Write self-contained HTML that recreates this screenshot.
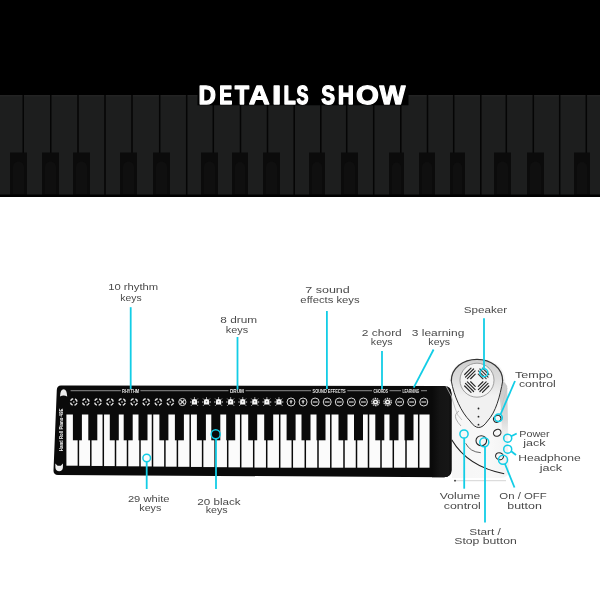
<!DOCTYPE html>
<html><head><meta charset="utf-8"><style>
html,body{margin:0;padding:0;background:#fff;width:600px;height:600px;overflow:hidden;position:relative}
</style></head><body>
<svg width="600" height="600" viewBox="0 0 600 600" style="position:absolute;left:0;top:0;will-change:transform" font-family="Liberation Sans, sans-serif"><rect x="0" y="0" width="600" height="197" fill="#000"/><rect x="0" y="95" width="600" height="100" fill="#1d1e1e"/><rect x="0" y="95" width="600" height="1.5" fill="#232323"/><rect x="22.5" y="95" width="1.5" height="100" fill="#050505"/><rect x="50.0" y="95" width="1.5" height="100" fill="#050505"/><rect x="77.25" y="95" width="1.5" height="100" fill="#050505"/><rect x="104.25" y="95" width="1.5" height="100" fill="#050505"/><rect x="131.25" y="95" width="1.5" height="100" fill="#050505"/><rect x="158.95" y="95" width="1.5" height="100" fill="#050505"/><rect x="185.95" y="95" width="1.5" height="100" fill="#050505"/><rect x="212.55" y="95" width="1.5" height="100" fill="#050505"/><rect x="239.75" y="95" width="1.5" height="100" fill="#050505"/><rect x="266.75" y="95" width="1.5" height="100" fill="#050505"/><rect x="293.45" y="95" width="1.5" height="100" fill="#050505"/><rect x="320.05" y="95" width="1.5" height="100" fill="#050505"/><rect x="345.95" y="95" width="1.5" height="100" fill="#050505"/><rect x="372.95" y="95" width="1.5" height="100" fill="#050505"/><rect x="400.05" y="95" width="1.5" height="100" fill="#050505"/><rect x="426.75" y="95" width="1.5" height="100" fill="#050505"/><rect x="452.95" y="95" width="1.5" height="100" fill="#050505"/><rect x="480.05" y="95" width="1.5" height="100" fill="#050505"/><rect x="505.55" y="95" width="1.5" height="100" fill="#050505"/><rect x="532.55" y="95" width="1.5" height="100" fill="#050505"/><rect x="558.95" y="95" width="1.5" height="100" fill="#050505"/><rect x="585.55" y="95" width="1.5" height="100" fill="#050505"/><rect x="10" y="152.5" width="17" height="42.5" fill="#0b0b0b"/><path d="M13 194 V167 a5.5 5.5 0 0 1 11 0 V194 Z" fill="#0f0f0f"/><rect x="42" y="152.5" width="17" height="42.5" fill="#0b0b0b"/><path d="M45 194 V167 a5.5 5.5 0 0 1 11 0 V194 Z" fill="#0f0f0f"/><rect x="73" y="152.5" width="17" height="42.5" fill="#0b0b0b"/><path d="M76 194 V167 a5.5 5.5 0 0 1 11 0 V194 Z" fill="#0f0f0f"/><rect x="120" y="152.5" width="17" height="42.5" fill="#0b0b0b"/><path d="M123 194 V167 a5.5 5.5 0 0 1 11 0 V194 Z" fill="#0f0f0f"/><rect x="153" y="152.5" width="17" height="42.5" fill="#0b0b0b"/><path d="M156 194 V167 a5.5 5.5 0 0 1 11 0 V194 Z" fill="#0f0f0f"/><rect x="201" y="152.5" width="17" height="42.5" fill="#0b0b0b"/><path d="M204 194 V167 a5.5 5.5 0 0 1 11 0 V194 Z" fill="#0f0f0f"/><rect x="232" y="152.5" width="16" height="42.5" fill="#0b0b0b"/><path d="M235 194 V167 a5.0 5.0 0 0 1 10 0 V194 Z" fill="#0f0f0f"/><rect x="263" y="152.5" width="17" height="42.5" fill="#0b0b0b"/><path d="M266 194 V167 a5.5 5.5 0 0 1 11 0 V194 Z" fill="#0f0f0f"/><rect x="309" y="152.5" width="16" height="42.5" fill="#0b0b0b"/><path d="M312 194 V167 a5.0 5.0 0 0 1 10 0 V194 Z" fill="#0f0f0f"/><rect x="341" y="152.5" width="17" height="42.5" fill="#0b0b0b"/><path d="M344 194 V167 a5.5 5.5 0 0 1 11 0 V194 Z" fill="#0f0f0f"/><rect x="389" y="152.5" width="15" height="42.5" fill="#0b0b0b"/><path d="M392 194 V167 a4.5 4.5 0 0 1 9 0 V194 Z" fill="#0f0f0f"/><rect x="419" y="152.5" width="16" height="42.5" fill="#0b0b0b"/><path d="M422 194 V167 a5.0 5.0 0 0 1 10 0 V194 Z" fill="#0f0f0f"/><rect x="450" y="152.5" width="15" height="42.5" fill="#0b0b0b"/><path d="M453 194 V167 a4.5 4.5 0 0 1 9 0 V194 Z" fill="#0f0f0f"/><rect x="494" y="152.5" width="17" height="42.5" fill="#0b0b0b"/><path d="M497 194 V167 a5.5 5.5 0 0 1 11 0 V194 Z" fill="#0f0f0f"/><rect x="527" y="152.5" width="17" height="42.5" fill="#0b0b0b"/><path d="M530 194 V167 a5.5 5.5 0 0 1 11 0 V194 Z" fill="#0f0f0f"/><rect x="574" y="152.5" width="16" height="42.5" fill="#0b0b0b"/><path d="M577 194 V167 a5.0 5.0 0 0 1 10 0 V194 Z" fill="#0f0f0f"/><rect x="0" y="194.5" width="600" height="2.5" fill="#000"/><defs><filter id="tb" x="-10%" y="-50%" width="120%" height="200%"><feGaussianBlur stdDeviation="0.6"/></filter></defs><rect x="197.5" y="93" width="211" height="12.3" fill="#000" filter="url(#tb)"/><g fill="#fff" stroke="#fff" stroke-width="1.3" stroke-linejoin="round"><path transform="matrix(0.011704 0 0 -0.012846 198.547 104.050)" d="M1393 715Q1393 497 1307.5 334.5Q1222 172 1065.5 86.0Q909 0 707 0H137V1409H647Q1003 1409 1198.0 1229.5Q1393 1050 1393 715ZM1096 715Q1096 942 978.0 1061.5Q860 1181 641 1181H432V228H682Q872 228 984.0 359.0Q1096 490 1096 715Z" vector-effect="non-scaling-stroke"/><path transform="matrix(0.009312 0 0 -0.012846 219.374 104.050)" d="M137 0V1409H1245V1181H432V827H1184V599H432V228H1286V0Z" vector-effect="non-scaling-stroke"/><path transform="matrix(0.011277 0 0 -0.012846 234.891 104.050)" d="M773 1181V0H478V1181H23V1409H1229V1181Z" vector-effect="non-scaling-stroke"/><path transform="matrix(0.013974 0 0 -0.012846 248.937 104.050)" d="M1133 0 1008 360H471L346 0H51L565 1409H913L1425 0ZM739 1192 733 1170Q723 1134 709.0 1088.0Q695 1042 537 582H942L803 987L760 1123Z" vector-effect="non-scaling-stroke"/><path transform="matrix(0.016949 0 0 -0.012846 271.828 104.050)" d="M137 0V1409H432V0Z" vector-effect="non-scaling-stroke"/><path transform="matrix(0.009610 0 0 -0.012846 283.633 104.050)" d="M137 0V1409H432V228H1188V0Z" vector-effect="non-scaling-stroke"/><path transform="matrix(0.008557 0 0 -0.012846 296.645 104.050)" d="M1286 406Q1286 199 1132.5 89.5Q979 -20 682 -20Q411 -20 257.0 76.0Q103 172 59 367L344 414Q373 302 457.0 251.5Q541 201 690 201Q999 201 999 389Q999 449 963.5 488.0Q928 527 863.5 553.0Q799 579 616 616Q458 653 396.0 675.5Q334 698 284.0 728.5Q234 759 199.0 802.0Q164 845 144.5 903.0Q125 961 125 1036Q125 1227 268.5 1328.5Q412 1430 686 1430Q948 1430 1079.5 1348.0Q1211 1266 1249 1077L963 1038Q941 1129 873.5 1175.0Q806 1221 680 1221Q412 1221 412 1053Q412 998 440.5 963.0Q469 928 525.0 903.5Q581 879 752 842Q955 799 1042.5 762.5Q1130 726 1181.0 677.5Q1232 629 1259.0 561.5Q1286 494 1286 406Z" vector-effect="non-scaling-stroke"/><path transform="matrix(0.009943 0 0 -0.012846 321.363 104.050)" d="M1286 406Q1286 199 1132.5 89.5Q979 -20 682 -20Q411 -20 257.0 76.0Q103 172 59 367L344 414Q373 302 457.0 251.5Q541 201 690 201Q999 201 999 389Q999 449 963.5 488.0Q928 527 863.5 553.0Q799 579 616 616Q458 653 396.0 675.5Q334 698 284.0 728.5Q234 759 199.0 802.0Q164 845 144.5 903.0Q125 961 125 1036Q125 1227 268.5 1328.5Q412 1430 686 1430Q948 1430 1079.5 1348.0Q1211 1266 1249 1077L963 1038Q941 1129 873.5 1175.0Q806 1221 680 1221Q412 1221 412 1053Q412 998 440.5 963.0Q469 928 525.0 903.5Q581 879 752 842Q955 799 1042.5 762.5Q1130 726 1181.0 677.5Q1232 629 1259.0 561.5Q1286 494 1286 406Z" vector-effect="non-scaling-stroke"/><path transform="matrix(0.010756 0 0 -0.012846 337.926 104.050)" d="M1046 0V604H432V0H137V1409H432V848H1046V1409H1341V0Z" vector-effect="non-scaling-stroke"/><path transform="matrix(0.014406 0 0 -0.012846 355.940 104.050)" d="M1507 711Q1507 491 1420.0 324.0Q1333 157 1171.0 68.5Q1009 -20 793 -20Q461 -20 272.5 175.5Q84 371 84 711Q84 1050 272.0 1240.0Q460 1430 795 1430Q1130 1430 1318.5 1238.0Q1507 1046 1507 711ZM1206 711Q1206 939 1098.0 1068.5Q990 1198 795 1198Q597 1198 489.0 1069.5Q381 941 381 711Q381 479 491.5 345.5Q602 212 793 212Q991 212 1098.5 342.0Q1206 472 1206 711Z" vector-effect="non-scaling-stroke"/><path transform="matrix(0.013323 0 0 -0.012846 379.623 104.050)" d="M1567 0H1217L1026 815Q991 959 967 1116Q943 985 928.0 916.5Q913 848 715 0H365L2 1409H301L505 499L551 279Q579 418 605.5 544.5Q632 671 805 1409H1135L1313 659Q1334 575 1384 279L1409 395L1462 625L1632 1409H1931Z" vector-effect="non-scaling-stroke"/></g><defs><linearGradient id="endg" x1="0" x2="1" y1="0" y2="0"><stop offset="0" stop-color="#0a0a0a"/><stop offset="0.4" stop-color="#141414"/><stop offset="0.85" stop-color="#161616"/><stop offset="1" stop-color="#0a0a0a"/></linearGradient></defs><path d="M61 385.5 L444 386 Q451.5 386 451.5 393.5 L451.5 470 Q451.5 477.2 444 477.2 L58 475 Q53.3 475 53.5 470.5 L56.8 390 Q57 385.5 61 385.5 Z" fill="#0a0a0a"/><path d="M432 386.2 L444 386.2 Q451.5 386.2 451.5 393.5 L451.5 470 Q451.5 477.2 444 477.2 L432 477.2 Z" fill="url(#endg)"/><rect x="70.6" y="390.2" width="50.2" height="1" fill="#8c8c8c"/><rect x="140.4" y="390.2" width="88.1" height="1" fill="#8c8c8c"/><rect x="245.5" y="390.2" width="65.5" height="1" fill="#8c8c8c"/><rect x="347.3" y="390.2" width="24.69999999999999" height="1" fill="#8c8c8c"/><rect x="389.5" y="390.2" width="11.5" height="1" fill="#8c8c8c"/><rect x="421" y="390.2" width="6" height="1" fill="#8c8c8c"/><text x="122" y="392.7" font-size="4.9" font-weight="bold" fill="#e6e6e6" textLength="17.19999999999999" lengthAdjust="spacingAndGlyphs">RHYTHM</text><text x="230" y="392.7" font-size="4.9" font-weight="bold" fill="#e6e6e6" textLength="14" lengthAdjust="spacingAndGlyphs">DRUM</text><text x="312.6" y="392.7" font-size="4.9" font-weight="bold" fill="#e6e6e6" textLength="33.099999999999966" lengthAdjust="spacingAndGlyphs">SOUND EFFECTS</text><text x="373.5" y="392.7" font-size="4.9" font-weight="bold" fill="#e6e6e6" textLength="14.5" lengthAdjust="spacingAndGlyphs">CHORDS</text><text x="402.4" y="392.7" font-size="4.9" font-weight="bold" fill="#e6e6e6" textLength="17.0" lengthAdjust="spacingAndGlyphs">LEARNING</text><g transform="translate(73.75,402)" fill="none" stroke="#dcdcdc" stroke-width="1.5"><circle r="3.3" stroke-dasharray="3.3 1.88" stroke-dashoffset="-0.94"/><circle r="0.9" fill="#9a9a9a" stroke="none"/></g><g transform="translate(85.82,402)" fill="none" stroke="#dcdcdc" stroke-width="1.5"><circle r="3.3" stroke-dasharray="3.3 1.88" stroke-dashoffset="-0.94"/><circle r="0.9" fill="#9a9a9a" stroke="none"/></g><g transform="translate(97.89,402)" fill="none" stroke="#dcdcdc" stroke-width="1.5"><circle r="3.3" stroke-dasharray="3.3 1.88" stroke-dashoffset="-0.94"/><circle r="0.9" fill="#9a9a9a" stroke="none"/></g><g transform="translate(109.96,402)" fill="none" stroke="#dcdcdc" stroke-width="1.5"><circle r="3.3" stroke-dasharray="3.3 1.88" stroke-dashoffset="-0.94"/><circle r="0.9" fill="#9a9a9a" stroke="none"/></g><g transform="translate(122.03,402)" fill="none" stroke="#dcdcdc" stroke-width="1.5"><circle r="3.3" stroke-dasharray="3.3 1.88" stroke-dashoffset="-0.94"/><circle r="0.9" fill="#9a9a9a" stroke="none"/></g><g transform="translate(134.10,402)" fill="none" stroke="#dcdcdc" stroke-width="1.5"><circle r="3.3" stroke-dasharray="3.3 1.88" stroke-dashoffset="-0.94"/><circle r="0.9" fill="#9a9a9a" stroke="none"/></g><g transform="translate(146.17,402)" fill="none" stroke="#dcdcdc" stroke-width="1.5"><circle r="3.3" stroke-dasharray="3.3 1.88" stroke-dashoffset="-0.94"/><circle r="0.9" fill="#9a9a9a" stroke="none"/></g><g transform="translate(158.24,402)" fill="none" stroke="#dcdcdc" stroke-width="1.5"><circle r="3.3" stroke-dasharray="3.3 1.88" stroke-dashoffset="-0.94"/><circle r="0.9" fill="#9a9a9a" stroke="none"/></g><g transform="translate(170.31,402)" fill="none" stroke="#dcdcdc" stroke-width="1.5"><circle r="3.3" stroke-dasharray="3.3 1.88" stroke-dashoffset="-0.94"/><circle r="0.9" fill="#9a9a9a" stroke="none"/></g><g transform="translate(182.38,402)" fill="none" stroke="#d8d8d8" stroke-width="1"><circle r="3.6"/><path d="M-2 -2L2 2M2 -2L-2 2" stroke-width="1.1"/></g><g transform="translate(194.45,402)"><path d="M-2.6 2.6 L-2.6 -0.5 Q-2.6 -2.9 0 -2.9 Q2.6 -2.9 2.6 -0.5 L2.6 2.6 Z" fill="#f6f6f6"/><path d="M0 -4.6V-3.3M-4.4 0H-3.1M3.1 0H4.4M-3.3 -3.3L-2.4 -2.4M3.3 -3.3L2.4 -2.4M-3.3 3.6L-2.4 2.7M3.3 3.6L2.4 2.7" stroke="#e8e8e8" stroke-width="1"/><circle cy="-0.3" r="0.8" fill="#777"/></g><g transform="translate(206.52,402)"><path d="M-2.6 2.6 L-2.6 -0.5 Q-2.6 -2.9 0 -2.9 Q2.6 -2.9 2.6 -0.5 L2.6 2.6 Z" fill="#f6f6f6"/><path d="M0 -4.6V-3.3M-4.4 0H-3.1M3.1 0H4.4M-3.3 -3.3L-2.4 -2.4M3.3 -3.3L2.4 -2.4M-3.3 3.6L-2.4 2.7M3.3 3.6L2.4 2.7" stroke="#e8e8e8" stroke-width="1"/><circle cy="-0.3" r="0.8" fill="#777"/></g><g transform="translate(218.59,402)"><path d="M-2.6 2.6 L-2.6 -0.5 Q-2.6 -2.9 0 -2.9 Q2.6 -2.9 2.6 -0.5 L2.6 2.6 Z" fill="#f6f6f6"/><path d="M0 -4.6V-3.3M-4.4 0H-3.1M3.1 0H4.4M-3.3 -3.3L-2.4 -2.4M3.3 -3.3L2.4 -2.4M-3.3 3.6L-2.4 2.7M3.3 3.6L2.4 2.7" stroke="#e8e8e8" stroke-width="1"/><circle cy="-0.3" r="0.8" fill="#777"/></g><g transform="translate(230.66,402)"><path d="M-2.6 2.6 L-2.6 -0.5 Q-2.6 -2.9 0 -2.9 Q2.6 -2.9 2.6 -0.5 L2.6 2.6 Z" fill="#f6f6f6"/><path d="M0 -4.6V-3.3M-4.4 0H-3.1M3.1 0H4.4M-3.3 -3.3L-2.4 -2.4M3.3 -3.3L2.4 -2.4M-3.3 3.6L-2.4 2.7M3.3 3.6L2.4 2.7" stroke="#e8e8e8" stroke-width="1"/><circle cy="-0.3" r="0.8" fill="#777"/></g><g transform="translate(242.73,402)"><path d="M-2.6 2.6 L-2.6 -0.5 Q-2.6 -2.9 0 -2.9 Q2.6 -2.9 2.6 -0.5 L2.6 2.6 Z" fill="#f6f6f6"/><path d="M0 -4.6V-3.3M-4.4 0H-3.1M3.1 0H4.4M-3.3 -3.3L-2.4 -2.4M3.3 -3.3L2.4 -2.4M-3.3 3.6L-2.4 2.7M3.3 3.6L2.4 2.7" stroke="#e8e8e8" stroke-width="1"/><circle cy="-0.3" r="0.8" fill="#777"/></g><g transform="translate(254.80,402)"><path d="M-2.6 2.6 L-2.6 -0.5 Q-2.6 -2.9 0 -2.9 Q2.6 -2.9 2.6 -0.5 L2.6 2.6 Z" fill="#f6f6f6"/><path d="M0 -4.6V-3.3M-4.4 0H-3.1M3.1 0H4.4M-3.3 -3.3L-2.4 -2.4M3.3 -3.3L2.4 -2.4M-3.3 3.6L-2.4 2.7M3.3 3.6L2.4 2.7" stroke="#e8e8e8" stroke-width="1"/><circle cy="-0.3" r="0.8" fill="#777"/></g><g transform="translate(266.87,402)"><path d="M-2.6 2.6 L-2.6 -0.5 Q-2.6 -2.9 0 -2.9 Q2.6 -2.9 2.6 -0.5 L2.6 2.6 Z" fill="#f6f6f6"/><path d="M0 -4.6V-3.3M-4.4 0H-3.1M3.1 0H4.4M-3.3 -3.3L-2.4 -2.4M3.3 -3.3L2.4 -2.4M-3.3 3.6L-2.4 2.7M3.3 3.6L2.4 2.7" stroke="#e8e8e8" stroke-width="1"/><circle cy="-0.3" r="0.8" fill="#777"/></g><g transform="translate(278.94,402)"><path d="M-2.6 2.6 L-2.6 -0.5 Q-2.6 -2.9 0 -2.9 Q2.6 -2.9 2.6 -0.5 L2.6 2.6 Z" fill="#f6f6f6"/><path d="M0 -4.6V-3.3M-4.4 0H-3.1M3.1 0H4.4M-3.3 -3.3L-2.4 -2.4M3.3 -3.3L2.4 -2.4M-3.3 3.6L-2.4 2.7M3.3 3.6L2.4 2.7" stroke="#e8e8e8" stroke-width="1"/><circle cy="-0.3" r="0.8" fill="#777"/></g><g transform="translate(291.01,402)"><circle r="4" fill="none" stroke="#d6d6d6" stroke-width="1"/><path d="M-1.8 -0.6 Q0 -2.8 1.8 -0.6 Z M-0.7 -0.6 V1.6 H0.7 V-0.6" fill="#e0e0e0"/></g><g transform="translate(303.08,402)"><circle r="4" fill="none" stroke="#d6d6d6" stroke-width="1"/><path d="M-1.8 -0.6 Q0 -2.8 1.8 -0.6 Z M-0.7 -0.6 V1.6 H0.7 V-0.6" fill="#e0e0e0"/></g><g transform="translate(315.15,402)"><circle r="4" fill="none" stroke="#d6d6d6" stroke-width="1"/><path d="M-2.4 0H2.4" stroke="#e0e0e0" stroke-width="1.1"/></g><g transform="translate(327.22,402)"><circle r="4" fill="none" stroke="#d6d6d6" stroke-width="1"/><path d="M-2.4 0H2.4" stroke="#e0e0e0" stroke-width="1.1"/></g><g transform="translate(339.29,402)"><circle r="4" fill="none" stroke="#d6d6d6" stroke-width="1"/><path d="M-2.4 0H2.4" stroke="#e0e0e0" stroke-width="1.1"/></g><g transform="translate(351.36,402)"><circle r="4" fill="none" stroke="#d6d6d6" stroke-width="1"/><path d="M-2.4 0H2.4" stroke="#e0e0e0" stroke-width="1.1"/></g><g transform="translate(363.43,402)"><circle r="4" fill="none" stroke="#d6d6d6" stroke-width="1"/><path d="M-2.4 0H2.4" stroke="#e0e0e0" stroke-width="1.1"/></g><g transform="translate(375.50,402)"><circle r="3.7" fill="none" stroke="#e4e4e4" stroke-width="1.2" stroke-dasharray="1.5 0.8"/><circle r="2.6" fill="#f2f2f2"/><circle r="1.1" fill="#333"/></g><g transform="translate(387.57,402)"><circle r="3.7" fill="none" stroke="#e4e4e4" stroke-width="1.2" stroke-dasharray="1.5 0.8"/><circle r="2.6" fill="#f2f2f2"/><circle r="1.1" fill="#333"/></g><g transform="translate(399.64,402)"><circle r="4" fill="none" stroke="#d6d6d6" stroke-width="1"/><path d="M-2.4 0H2.4" stroke="#e0e0e0" stroke-width="1.1"/></g><g transform="translate(411.71,402)"><circle r="4" fill="none" stroke="#d6d6d6" stroke-width="1"/><path d="M-2.4 0H2.4" stroke="#e0e0e0" stroke-width="1.1"/></g><g transform="translate(423.78,402)"><circle r="4" fill="none" stroke="#d6d6d6" stroke-width="1"/><path d="M-2.4 0H2.4" stroke="#e0e0e0" stroke-width="1.1"/></g><rect x="66.40" y="414.5" width="11.25" height="51.20" fill="#fbfbfb"/><rect x="79.15" y="414.5" width="10.90" height="51.33" fill="#fbfbfb"/><rect x="91.55" y="414.5" width="11.00" height="51.46" fill="#fbfbfb"/><rect x="104.05" y="414.5" width="10.70" height="51.58" fill="#fbfbfb"/><rect x="116.25" y="414.5" width="10.50" height="51.70" fill="#fbfbfb"/><rect x="128.25" y="414.5" width="11.00" height="51.82" fill="#fbfbfb"/><rect x="140.75" y="414.5" width="11.00" height="51.95" fill="#fbfbfb"/><rect x="153.25" y="414.5" width="10.90" height="52.07" fill="#fbfbfb"/><rect x="165.65" y="414.5" width="11.00" height="52.20" fill="#fbfbfb"/><rect x="178.15" y="414.5" width="11.30" height="52.32" fill="#fbfbfb"/><rect x="190.95" y="414.5" width="10.90" height="52.45" fill="#fbfbfb"/><rect x="203.35" y="414.5" width="11.00" height="52.57" fill="#fbfbfb"/><rect x="215.85" y="414.5" width="11.10" height="52.70" fill="#fbfbfb"/><rect x="228.45" y="414.5" width="11.50" height="52.82" fill="#fbfbfb"/><rect x="241.45" y="414.5" width="11.50" height="52.95" fill="#fbfbfb"/><rect x="254.45" y="414.5" width="11.50" height="53.08" fill="#fbfbfb"/><rect x="267.45" y="414.5" width="11.50" height="53.20" fill="#fbfbfb"/><rect x="280.45" y="414.5" width="11.10" height="53.20" fill="#fbfbfb"/><rect x="293.05" y="414.5" width="11.50" height="53.20" fill="#fbfbfb"/><rect x="306.05" y="414.5" width="11.20" height="53.20" fill="#fbfbfb"/><rect x="318.75" y="414.5" width="11.30" height="53.20" fill="#fbfbfb"/><rect x="331.55" y="414.5" width="11.70" height="53.20" fill="#fbfbfb"/><rect x="344.75" y="414.5" width="11.00" height="53.20" fill="#fbfbfb"/><rect x="357.25" y="414.5" width="10.50" height="53.20" fill="#fbfbfb"/><rect x="369.25" y="414.5" width="11.00" height="53.20" fill="#fbfbfb"/><rect x="381.75" y="414.5" width="10.80" height="53.20" fill="#fbfbfb"/><rect x="394.05" y="414.5" width="11.20" height="53.20" fill="#fbfbfb"/><rect x="406.75" y="414.5" width="11.20" height="53.20" fill="#fbfbfb"/><rect x="419.45" y="414.5" width="10.10" height="53.20" fill="#fbfbfb"/><rect x="72.90" y="414" width="9" height="26.3" fill="#0a0a0a"/><rect x="88.30" y="414" width="9" height="26.3" fill="#0a0a0a"/><rect x="109.80" y="414" width="9" height="26.3" fill="#0a0a0a"/><rect x="123.70" y="414" width="9" height="26.3" fill="#0a0a0a"/><rect x="138.50" y="414" width="9" height="26.3" fill="#0a0a0a"/><rect x="159.40" y="414" width="9" height="26.3" fill="#0a0a0a"/><rect x="174.90" y="414" width="9" height="26.3" fill="#0a0a0a"/><rect x="196.90" y="414" width="9" height="26.3" fill="#0a0a0a"/><rect x="211.30" y="414" width="9" height="26.3" fill="#0a0a0a"/><rect x="226.20" y="414" width="9" height="26.3" fill="#0a0a0a"/><rect x="248.20" y="414" width="9" height="26.3" fill="#0a0a0a"/><rect x="264.20" y="414" width="9" height="26.3" fill="#0a0a0a"/><rect x="286.60" y="414" width="9" height="26.3" fill="#0a0a0a"/><rect x="301.50" y="414" width="9" height="26.3" fill="#0a0a0a"/><rect x="316.50" y="414" width="9" height="26.3" fill="#0a0a0a"/><rect x="338.50" y="414" width="9" height="26.3" fill="#0a0a0a"/><rect x="354.00" y="414" width="9" height="26.3" fill="#0a0a0a"/><rect x="375.30" y="414" width="9" height="26.3" fill="#0a0a0a"/><rect x="389.50" y="414" width="9" height="26.3" fill="#0a0a0a"/><rect x="404.50" y="414" width="9" height="26.3" fill="#0a0a0a"/><path d="M60 396.6 Q60.3 389.3 63.6 389.3 Q66.9 389.3 67.2 396.6 Q63.6 394.2 60 396.6 Z" fill="#ececec"/><path d="M55.3 463.6 L57.6 465.8 L60.8 465.8 L63 463.6 L62.9 467.8 Q62.5 471.2 59.2 471.2 Q55.8 471.2 55.4 467.8 Z" fill="#f0f0f0"/><text transform="translate(62.8,451.2) rotate(-90)" font-size="5" font-weight="bold" fill="#f4f4f4" textLength="42.5" lengthAdjust="spacingAndGlyphs">Hand Roll Piano 49E</text><defs><linearGradient id="ctlg" x1="0" x2="1" y1="0" y2="0"><stop offset="0" stop-color="#f6f6f6"/><stop offset="0.7" stop-color="#f8f8f8"/><stop offset="1" stop-color="#f2f2f2"/></linearGradient><linearGradient id="domeg" gradientUnits="userSpaceOnUse" x1="0" y1="360" x2="0" y2="396"><stop offset="0" stop-color="#cfcfcf"/><stop offset="0.5" stop-color="#dcdcdc"/><stop offset="1" stop-color="#f1f1f1"/></linearGradient></defs><path d="M449.3 380.3 Q452 359.3 478.5 359.3 Q503 359.3 505.3 380.3 L509 470 Q509 478 500 478 L452 478 L452 384 Z" fill="url(#ctlg)"/><defs><linearGradient id="rbg" x1="0" x2="0" y1="0" y2="1"><stop offset="0" stop-color="#c8c8c8"/><stop offset="0.6" stop-color="#dadada"/><stop offset="1" stop-color="#f4f4f4" stop-opacity="0"/></linearGradient></defs><path d="M502.6 381 Q506 383 507.2 386 L508.5 446 L502 446 Q502 410 499.5 398 Z" fill="url(#rbg)"/><path d="M451.3 381 C451.3 368 463 359.3 477 359.3 C491 359.3 502.7 368 502.7 381 C500 396 496 412 487.5 421 Q483 427.5 478.7 427.5 Q474.5 427.5 470 421 C461 412 454 396 451.3 381 Z" fill="#f1f1f1"/><path d="M451.3 381 C451.3 368 463 359.3 477 359.3 C491 359.3 502.7 368 502.7 381 C501.5 387 500 392 499 396 L455 396 C454 392 452.3 387 451.3 381 Z" fill="url(#domeg)"/><path d="M451.3 381 C451.3 368 463 359.3 477 359.3 C491 359.3 502.7 368 502.7 381" fill="none" stroke="#343434" stroke-width="1.3"/><path d="M451.3 381 C454 396 461 412 470 421 Q474.5 427.5 478.7 427.5 Q483 427.5 487.5 421 C496 412 500 396 502.7 381" fill="none" stroke="#2e2e2e" stroke-width="1"/><path d="M446 386 Q452 395 455 408 Q457 416 462 420" fill="none" stroke="#bdbdbd" stroke-width="0.8"/><path d="M507 388 Q503 400 501 410" fill="none" stroke="#c4c4c4" stroke-width="0.8"/><circle cx="477" cy="380.2" r="17" fill="#f4f4f4" stroke="#8a8a8a" stroke-width="0.8"/><g stroke-width="1.15" stroke-linecap="round" transform="translate(476.75,380.25)"><path d="M-6.12 -1.52 L-1.52 -6.12" stroke="#262626"/><path d="M-9.40 -1.63 L-1.63 -9.40" stroke="#262626"/><path d="M-11.28 -3.15 L-3.15 -11.28" stroke="#262626"/><path d="M-12.09 -5.73 L-5.73 -12.09" stroke="#262626"/><path d="M1.52 -6.12 L6.12 -1.52" stroke="#3a3a3a"/><path d="M1.63 -9.40 L9.40 -1.63" stroke="#3a3a3a"/><path d="M3.15 -11.28 L11.28 -3.15" stroke="#3a3a3a"/><path d="M5.73 -12.09 L12.09 -5.73" stroke="#3a3a3a"/><path d="M-1.52 6.12 L-6.12 1.52" stroke="#262626"/><path d="M-1.63 9.40 L-9.40 1.63" stroke="#262626"/><path d="M-3.15 11.28 L-11.28 3.15" stroke="#262626"/><path d="M-5.73 12.09 L-12.09 5.73" stroke="#262626"/><path d="M6.12 1.52 L1.52 6.12" stroke="#262626"/><path d="M9.40 1.63 L1.63 9.40" stroke="#262626"/><path d="M11.28 3.15 L3.15 11.28" stroke="#262626"/><path d="M12.09 5.73 L5.73 12.09" stroke="#262626"/></g><circle cx="478.5" cy="408.5" r="0.9" fill="#222"/><circle cx="478.5" cy="416.7" r="0.9" fill="#222"/><circle cx="478.5" cy="424.7" r="0.9" fill="#222"/><path d="M459 411 Q454 414 456 419 Q458 423 461 426" fill="none" stroke="#9a9a9a" stroke-width="0.8"/><ellipse cx="497.2" cy="418.8" rx="3.8" ry="3.2" transform="rotate(-30 497.2 418.8)" fill="#f6f6f6" stroke="#2a2a2a" stroke-width="1.1"/><ellipse cx="497.2" cy="432.8" rx="3.9" ry="3.3" transform="rotate(-30 497.2 432.8)" fill="#f6f6f6" stroke="#2a2a2a" stroke-width="1.1"/><ellipse cx="481.3" cy="440.7" rx="5.3" ry="5" transform="rotate(0 481.3 440.7)" fill="#f6f6f6" stroke="#2a2a2a" stroke-width="1.1"/><ellipse cx="499.5" cy="456.2" rx="4" ry="3.4" transform="rotate(20 499.5 456.2)" fill="#f6f6f6" stroke="#2a2a2a" stroke-width="1.1"/><path d="M451.7 439.8 Q468 467 504.2 473.7" fill="none" stroke="#1e1e1e" stroke-width="1.1"/><path d="M465.7 443.3 Q470 452 480.8 452.7" fill="none" stroke="#555" stroke-width="0.9"/><path d="M455 480.7 L506 480.7" stroke="#cfcfcf" stroke-width="0.9"/><circle cx="455" cy="480.7" r="0.9" fill="#333"/><line x1="130.7" y1="307.2" x2="130.7" y2="389" stroke="#12cde6" stroke-width="1.8"/><line x1="237.5" y1="337" x2="237.5" y2="389.5" stroke="#12cde6" stroke-width="1.8"/><line x1="326.9" y1="311" x2="326.9" y2="389" stroke="#12cde6" stroke-width="1.8"/><line x1="382" y1="351" x2="382" y2="389" stroke="#12cde6" stroke-width="1.8"/><line x1="433.6" y1="349.5" x2="413.7" y2="387.7" stroke="#12cde6" stroke-width="1.8"/><line x1="484" y1="318.3" x2="484" y2="368.8" stroke="#12cde6" stroke-width="1.8"/><circle cx="483.9" cy="372.75" r="4" fill="none" stroke="#12cde6" stroke-width="1.5"/><line x1="515" y1="381" x2="500.5" y2="414.5" stroke="#12cde6" stroke-width="1.8"/><circle cx="498.5" cy="417.8" r="3.8" fill="none" stroke="#12cde6" stroke-width="1.5"/><circle cx="507.7" cy="438.2" r="4" fill="none" stroke="#12cde6" stroke-width="1.5"/><line x1="511.2" y1="436.3" x2="516.7" y2="433.5" stroke="#12cde6" stroke-width="1.8"/><circle cx="507.7" cy="449.2" r="4" fill="none" stroke="#12cde6" stroke-width="1.5"/><line x1="511.2" y1="451.2" x2="516" y2="455" stroke="#12cde6" stroke-width="1.8"/><circle cx="503" cy="459.7" r="4.5" fill="none" stroke="#12cde6" stroke-width="1.5"/><line x1="505" y1="464" x2="514.5" y2="487.5" stroke="#12cde6" stroke-width="1.8"/><circle cx="464" cy="434" r="4.1" fill="none" stroke="#12cde6" stroke-width="1.5"/><line x1="464.2" y1="438.1" x2="464.2" y2="488.7" stroke="#12cde6" stroke-width="1.8"/><circle cx="484.3" cy="442.2" r="4.5" fill="none" stroke="#12cde6" stroke-width="1.5"/><line x1="485" y1="446.7" x2="485" y2="522.5" stroke="#12cde6" stroke-width="1.8"/><circle cx="146.7" cy="458" r="3.8" fill="none" stroke="#12cde6" stroke-width="1.5"/><line x1="146.7" y1="462" x2="146.7" y2="489" stroke="#12cde6" stroke-width="1.8"/><circle cx="215.7" cy="434.3" r="4.5" fill="none" stroke="#12cde6" stroke-width="1.5"/><line x1="216" y1="439" x2="216" y2="489" stroke="#12cde6" stroke-width="1.8"/><text x="108.18" y="290.25" font-size="9.5" fill="#4a4a4a" textLength="49.98" lengthAdjust="spacingAndGlyphs">10 rhythm</text><text x="120.30" y="300.75" font-size="9.5" fill="#4a4a4a" textLength="21.35" lengthAdjust="spacingAndGlyphs">keys</text><text x="220.38" y="322.50" font-size="9.5" fill="#4a4a4a" textLength="36.80" lengthAdjust="spacingAndGlyphs">8 drum</text><text x="225.72" y="332.50" font-size="9.5" fill="#4a4a4a" textLength="22.40" lengthAdjust="spacingAndGlyphs">keys</text><text x="305.28" y="292.80" font-size="9.5" fill="#4a4a4a" textLength="44.49" lengthAdjust="spacingAndGlyphs">7 sound</text><text x="300.38" y="303.30" font-size="9.5" fill="#4a4a4a" textLength="59.26" lengthAdjust="spacingAndGlyphs">effects keys</text><text x="361.88" y="336.40" font-size="9.5" fill="#4a4a4a" textLength="39.89" lengthAdjust="spacingAndGlyphs">2 chord</text><text x="370.88" y="345.40" font-size="9.5" fill="#4a4a4a" textLength="21.76" lengthAdjust="spacingAndGlyphs">keys</text><text x="411.80" y="336.40" font-size="9.5" fill="#4a4a4a" textLength="52.53" lengthAdjust="spacingAndGlyphs">3 learning</text><text x="428.38" y="345.40" font-size="9.5" fill="#4a4a4a" textLength="21.71" lengthAdjust="spacingAndGlyphs">keys</text><text x="463.72" y="313.30" font-size="9.5" fill="#4a4a4a" textLength="43.46" lengthAdjust="spacingAndGlyphs">Speaker</text><text x="515.08" y="377.50" font-size="9.5" fill="#4a4a4a" textLength="37.77" lengthAdjust="spacingAndGlyphs">Tempo</text><text x="518.92" y="387.00" font-size="9.5" fill="#4a4a4a" textLength="36.85" lengthAdjust="spacingAndGlyphs">control</text><text x="519.30" y="436.70" font-size="9.5" fill="#4a4a4a" textLength="30.35" lengthAdjust="spacingAndGlyphs">Power</text><text x="523.30" y="446.00" font-size="9.5" fill="#4a4a4a" textLength="22.37" lengthAdjust="spacingAndGlyphs">jack</text><text x="518.18" y="461.30" font-size="9.5" fill="#4a4a4a" textLength="62.58" lengthAdjust="spacingAndGlyphs">Headphone</text><text x="539.72" y="471.30" font-size="9.5" fill="#4a4a4a" textLength="22.37" lengthAdjust="spacingAndGlyphs">jack</text><text x="439.76" y="499.00" font-size="9.5" fill="#4a4a4a" textLength="40.55" lengthAdjust="spacingAndGlyphs">Volume</text><text x="443.76" y="508.60" font-size="9.5" fill="#4a4a4a" textLength="37.02" lengthAdjust="spacingAndGlyphs">control</text><text x="499.30" y="499.00" font-size="9.5" fill="#4a4a4a" textLength="47.46" lengthAdjust="spacingAndGlyphs">On / OFF</text><text x="507.30" y="508.60" font-size="9.5" fill="#4a4a4a" textLength="34.49" lengthAdjust="spacingAndGlyphs">button</text><text x="469.30" y="534.60" font-size="9.5" fill="#4a4a4a" textLength="31.50" lengthAdjust="spacingAndGlyphs">Start /</text><text x="454.30" y="544.00" font-size="9.5" fill="#4a4a4a" textLength="62.45" lengthAdjust="spacingAndGlyphs">Stop button</text><text x="127.92" y="501.90" font-size="9.5" fill="#4a4a4a" textLength="41.61" lengthAdjust="spacingAndGlyphs">29 white</text><text x="139.34" y="511.00" font-size="9.5" fill="#4a4a4a" textLength="21.95" lengthAdjust="spacingAndGlyphs">keys</text><text x="197.30" y="504.50" font-size="9.5" fill="#4a4a4a" textLength="43.33" lengthAdjust="spacingAndGlyphs">20 black</text><text x="205.72" y="513.20" font-size="9.5" fill="#4a4a4a" textLength="21.95" lengthAdjust="spacingAndGlyphs">keys</text></svg>

</body></html>
